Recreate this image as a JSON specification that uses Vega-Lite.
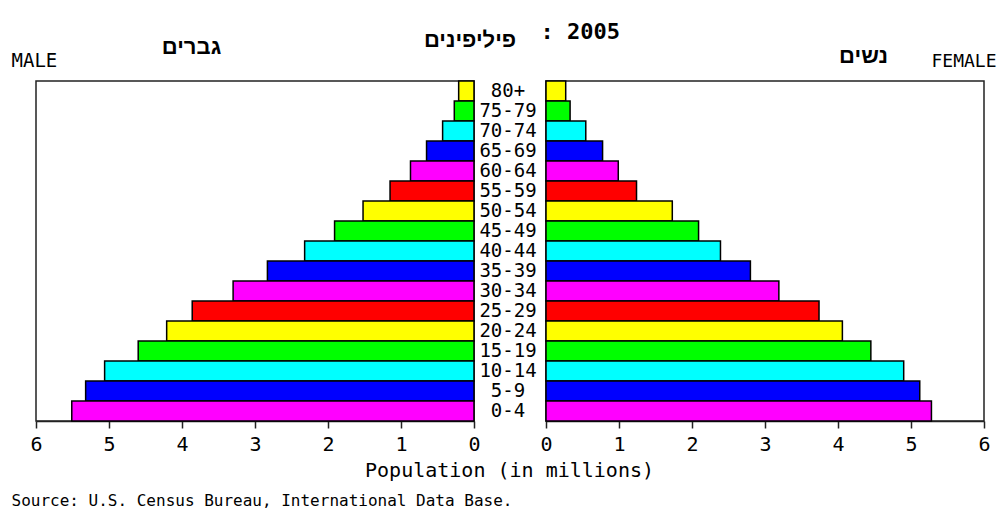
{
  "$schema": "https://vega.github.io/schema/vega-lite/v6.json",
  "background": "white",
  "padding": {"left": 10, "top": 19, "right": 5, "bottom": 5},
  "bounds": "flush",
  "spacing": 0,
  "data": {
    "values": [
      {"age": "80+", "male": 0.21, "female": 0.27},
      {"age": "75-79", "male": 0.27, "female": 0.33},
      {"age": "70-74", "male": 0.43, "female": 0.545},
      {"age": "65-69", "male": 0.65, "female": 0.775},
      {"age": "60-64", "male": 0.87, "female": 0.99},
      {"age": "55-59", "male": 1.15, "female": 1.24},
      {"age": "50-54", "male": 1.52, "female": 1.73},
      {"age": "45-49", "male": 1.91, "female": 2.09},
      {"age": "40-44", "male": 2.32, "female": 2.39},
      {"age": "35-39", "male": 2.83, "female": 2.8},
      {"age": "30-34", "male": 3.3, "female": 3.19},
      {"age": "25-29", "male": 3.86, "female": 3.74},
      {"age": "20-24", "male": 4.21, "female": 4.06},
      {"age": "15-19", "male": 4.6, "female": 4.45},
      {"age": "10-14", "male": 5.06, "female": 4.9},
      {"age": "5-9", "male": 5.32, "female": 5.12},
      {"age": "0-4", "male": 5.51, "female": 5.28}
    ]
  },
  "config": {
    "view": {"stroke": "#222", "strokeWidth": 1.5},
    "axis": {
      "grid": false,
      "labelFont": "DejaVu Sans Mono",
      "labelFontSize": 20,
      "labelColor": "#000",
      "titleFont": "DejaVu Sans Mono",
      "titleFontSize": 20,
      "titleFontWeight": "normal",
      "titleColor": "#000",
      "domainColor": "#222",
      "domainWidth": 1.5,
      "tickColor": "#222",
      "tickWidth": 1.5,
      "tickSize": 7,
      "labelPadding": 6
    }
  },
  "resolve": {"scale": {"x": "independent", "y": "independent", "color": "independent"}},
  "hconcat": [
    {
      "width": 438,
      "height": 340,
      "resolve": {"axis": {"x": "independent", "y": "independent"}},
      "layer": [
        {
          "mark": {"type": "bar", "stroke": "#000", "strokeWidth": 1.5},
          "encoding": {
            "x": {"field": "male", "type": "quantitative",
              "scale": {"domain": [0, 6], "reverse": true, "nice": false},
              "axis": {"orient": "bottom", "values": [0, 1, 2, 3, 4, 5, 6], "format": "d", "labelFlush": false, "labelOverlap": false,
                "title": "Population (in millions)", "titleX": 473, "titleY": 55, "titleAlign": "center", "titleBaseline": "alphabetic"}},
            "y": {"field": "age", "type": "nominal", "sort": null,
              "scale": {"domain": ["80+", "75-79", "70-74", "65-69", "60-64", "55-59", "50-54", "45-49", "40-44", "35-39", "30-34", "25-29", "20-24", "15-19", "10-14", "5-9", "0-4"], "paddingInner": 0, "paddingOuter": 0},
              "axis": {"orient": "left", "labels": false, "ticks": false, "domain": false,
                "title": "גברים", "titleFont": "Liberation Sans, DejaVu Sans", "titleFontSize": 22, "titleFontWeight": "bold",
                "titleAngle": 0, "titleX": 155, "titleY": -28, "titleAlign": "center", "titleBaseline": "alphabetic"}},
            "color": {"field": "age", "type": "nominal",
              "scale": {"domain": ["80+", "75-79", "70-74", "65-69", "60-64", "55-59", "50-54", "45-49", "40-44", "35-39", "30-34", "25-29", "20-24", "15-19", "10-14", "5-9", "0-4"],
                "range": ["#ffff00", "#00ff00", "#00ffff", "#0000ff", "#ff00ff", "#ff0000", "#ffff00", "#00ff00", "#00ffff", "#0000ff", "#ff00ff", "#ff0000", "#ffff00", "#00ff00", "#00ffff", "#0000ff", "#ff00ff"]},
              "legend": null}
          }
        },
        {
          "mark": {"type": "bar", "opacity": 0},
          "encoding": {
            "x": {"field": "male", "type": "quantitative",
              "scale": {"domain": [0, 6], "reverse": true, "nice": false},
              "axis": {"orient": "top", "labels": false, "ticks": false, "domain": false,
                "title": "MALE", "titleFontSize": 19, "titleX": -25, "titleY": -15, "titleAlign": "left", "titleBaseline": "alphabetic"}},
            "y": {"field": "age", "type": "nominal", "sort": null, "axis": null}
          }
        }
      ]
    },
    {
      "width": 72,
      "height": 340,
      "view": {"stroke": null},
      "title": {"text": "פיליפינים", "font": "Liberation Sans, DejaVu Sans", "fontSize": 22, "fontWeight": "bold", "color": "#000",
        "anchor": "middle", "frame": "group", "dx": -40, "offset": 12, "baseline": "alphabetic"},
      "mark": {"type": "text", "font": "DejaVu Sans Mono", "fontSize": 19, "baseline": "middle", "align": "center", "dx": -2, "color": "#000"},
      "encoding": {
        "y": {"field": "age", "type": "nominal", "sort": null,
          "scale": {"domain": ["80+", "75-79", "70-74", "65-69", "60-64", "55-59", "50-54", "45-49", "40-44", "35-39", "30-34", "25-29", "20-24", "15-19", "10-14", "5-9", "0-4"], "paddingInner": 0, "paddingOuter": 0},
          "axis": null},
        "text": {"field": "age", "type": "nominal"}
      }
    },
    {
      "width": 438,
      "height": 340,
      "resolve": {"axis": {"x": "independent", "y": "independent"}},
      "layer": [
        {
          "mark": {"type": "bar", "stroke": "#000", "strokeWidth": 1.5},
          "encoding": {
            "x": {"field": "female", "type": "quantitative",
              "scale": {"domain": [0, 6], "nice": false},
              "axis": {"orient": "bottom", "values": [0, 1, 2, 3, 4, 5, 6], "format": "d", "labelFlush": false, "labelOverlap": false,
                "title": "Source: U.S. Census Bureau, International Data Base.", "titleFontSize": 16, "titleX": -535, "titleY": 84, "titleAlign": "left", "titleBaseline": "alphabetic"}},
            "y": {"field": "age", "type": "nominal", "sort": null,
              "scale": {"domain": ["80+", "75-79", "70-74", "65-69", "60-64", "55-59", "50-54", "45-49", "40-44", "35-39", "30-34", "25-29", "20-24", "15-19", "10-14", "5-9", "0-4"], "paddingInner": 0, "paddingOuter": 0},
              "axis": {"orient": "right", "labels": false, "ticks": false, "domain": false,
                "title": "FEMALE", "titleFontSize": 18, "titleAngle": 0, "titleX": -53, "titleY": -15, "titleAlign": "left", "titleBaseline": "alphabetic"}},
            "color": {"field": "age", "type": "nominal",
              "scale": {"domain": ["80+", "75-79", "70-74", "65-69", "60-64", "55-59", "50-54", "45-49", "40-44", "35-39", "30-34", "25-29", "20-24", "15-19", "10-14", "5-9", "0-4"],
                "range": ["#ffff00", "#00ff00", "#00ffff", "#0000ff", "#ff00ff", "#ff0000", "#ffff00", "#00ff00", "#00ffff", "#0000ff", "#ff00ff", "#ff0000", "#ffff00", "#00ff00", "#00ffff", "#0000ff", "#ff00ff"]},
              "legend": null}
          }
        },
        {
          "mark": {"type": "bar", "opacity": 0},
          "encoding": {
            "x": {"field": "female", "type": "quantitative",
              "scale": {"domain": [0, 6], "nice": false},
              "axis": {"orient": "top", "labels": false, "ticks": false, "domain": false,
                "title": "נשים", "titleFont": "Liberation Sans, DejaVu Sans", "titleFontSize": 22, "titleFontWeight": "bold",
                "titleX": 317, "titleY": -19, "titleAlign": "center", "titleBaseline": "alphabetic"}},
            "y": {"field": "age", "type": "nominal", "sort": null,
              "axis": {"orient": "left", "labels": false, "ticks": false, "domain": false,
                "title": ": 2005", "titleFont": "DejaVu Sans Mono", "titleFontSize": 22, "titleFontWeight": "bold",
                "titleAngle": 0, "titleX": -6, "titleY": -43, "titleAlign": "left", "titleBaseline": "alphabetic"}}
          }
        }
      ]
    }
  ]
}
